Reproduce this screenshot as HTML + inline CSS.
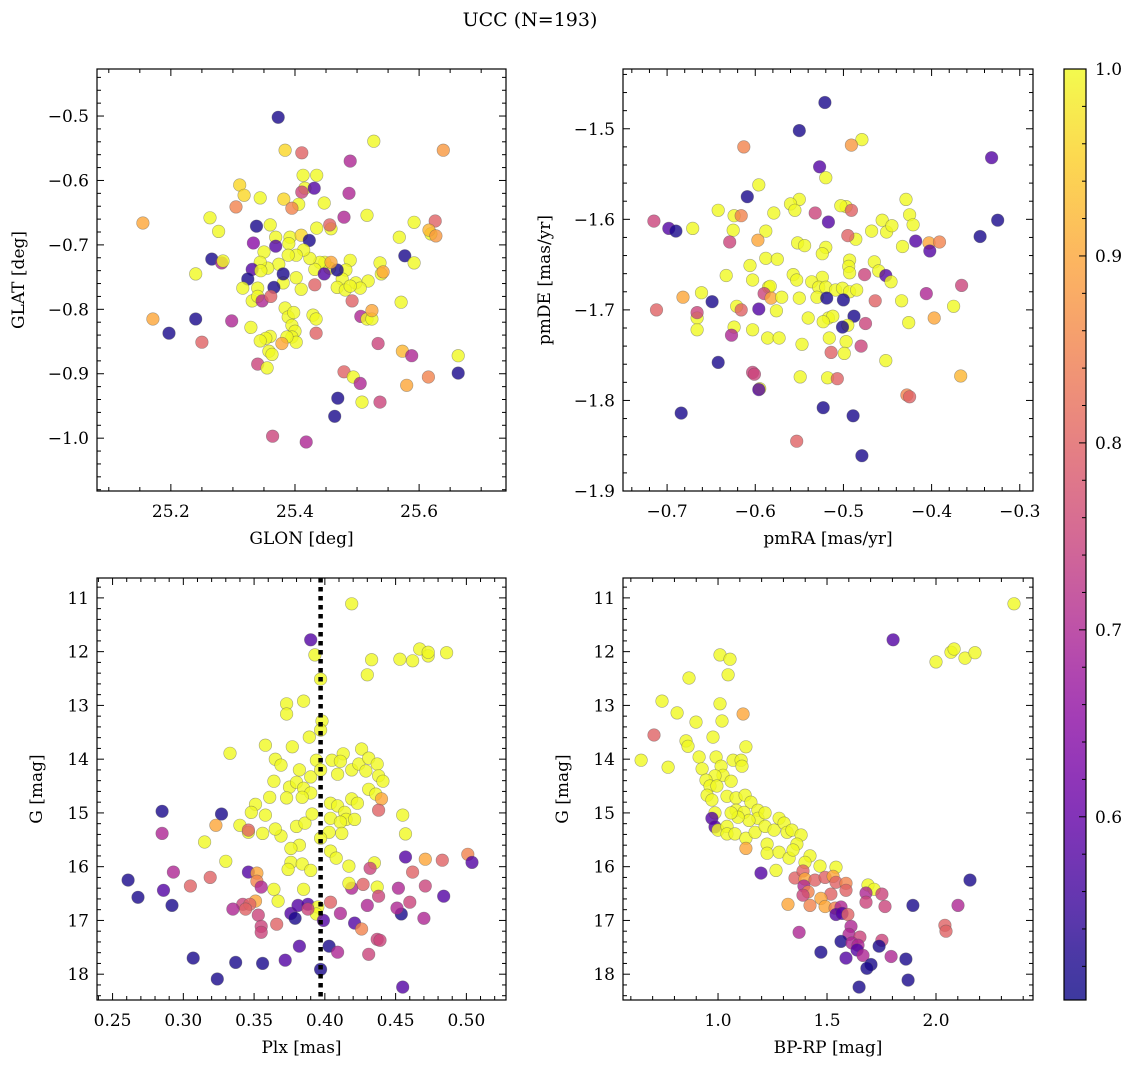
<!DOCTYPE html>
<html><head><meta charset="utf-8"><style>
body{margin:0;background:#fff;}
svg{display:block;font-family:"DejaVu Serif","Liberation Serif",serif;}
</style></head><body>
<svg id="fig" width="1136" height="1068" viewBox="0 0 1136 1068" xmlns="http://www.w3.org/2000/svg">
<rect width="1136" height="1068" fill="#fff"/>
<text x="530" y="26" font-size="19" text-anchor="middle">UCC (N=193)</text>
</svg>
<script>
// ---------- data ----------
const p1x=[25.373,25.384,25.527,25.639,25.411,25.489,25.311,25.318,25.435,25.416,25.431,25.413,25.411,25.406,25.447,25.487,25.382,25.395,25.344,25.305,25.263,25.338,25.333,25.155,25.277,25.266,25.282,25.240,25.284,25.360,25.369,25.392,25.410,25.423,25.435,25.458,25.456,25.479,25.516,25.568,25.592,25.619,25.626,25.616,25.627,25.577,25.592,25.537,25.539,25.518,25.489,25.482,25.498,25.505,25.476,25.468,25.481,25.489,25.456,25.448,25.440,25.432,25.447,25.468,25.458,25.424,25.414,25.402,25.390,25.369,25.389,25.374,25.356,25.350,25.344,25.331,25.381,25.410,25.432,25.402,25.324,25.345,25.381,25.366,25.340,25.316,25.331,25.340,25.347,25.361,25.384,25.389,25.398,25.395,25.400,25.395,25.402,25.387,25.379,25.360,25.353,25.358,25.329,25.344,25.429,25.434,25.434,25.492,25.506,25.516,25.524,25.524,25.542,25.571,25.171,25.197,25.240,25.298,25.250,25.340,25.355,25.363,25.573,25.588,25.615,25.663,25.663,25.479,25.494,25.505,25.580,25.508,25.537,25.469,25.464,25.364,25.418,25.534];
const p1y=[-0.502,-0.553,-0.539,-0.553,-0.557,-0.570,-0.607,-0.623,-0.592,-0.612,-0.612,-0.592,-0.618,-0.637,-0.635,-0.620,-0.629,-0.643,-0.627,-0.641,-0.658,-0.671,-0.697,-0.666,-0.679,-0.722,-0.728,-0.745,-0.725,-0.669,-0.688,-0.688,-0.685,-0.693,-0.674,-0.675,-0.669,-0.657,-0.654,-0.688,-0.665,-0.683,-0.663,-0.677,-0.686,-0.717,-0.728,-0.728,-0.745,-0.756,-0.724,-0.739,-0.759,-0.767,-0.753,-0.766,-0.770,-0.764,-0.736,-0.727,-0.727,-0.738,-0.745,-0.739,-0.727,-0.721,-0.708,-0.716,-0.698,-0.702,-0.716,-0.730,-0.736,-0.711,-0.727,-0.738,-0.759,-0.769,-0.762,-0.751,-0.753,-0.740,-0.745,-0.766,-0.767,-0.767,-0.787,-0.780,-0.787,-0.780,-0.798,-0.812,-0.805,-0.825,-0.834,-0.843,-0.851,-0.843,-0.853,-0.842,-0.845,-0.865,-0.828,-0.849,-0.809,-0.815,-0.837,-0.787,-0.811,-0.815,-0.815,-0.802,-0.742,-0.789,-0.815,-0.837,-0.815,-0.818,-0.851,-0.885,-0.891,-0.870,-0.865,-0.872,-0.905,-0.872,-0.899,-0.897,-0.905,-0.915,-0.918,-0.944,-0.944,-0.938,-0.966,-0.997,-1.006,-0.853];
const p1c=[.52,.96,1,.88,.8,.7,.96,.96,1,1,.58,1,.75,1,1,.7,.96,.85,1,.85,1,.52,.65,.9,1,.52,.7,1,1,1,1,1,.96,.52,1,1,.8,.7,1,1,1,1,.8,.92,.88,.52,1,1,1,1,1,1,1,1,1,1,1,1,1,1,1,1,.58,.52,.9,1,1,1,1,.58,1,1,1,1,1,.58,1,1,.8,1,.52,1,.52,.52,1,1,1,1,.7,.8,1,1,1,1,1,1,1,1,.9,1,1,1,1,1,1,1,.8,.8,.7,1,1,.9,.9,1,.9,.52,.52,.7,.8,.75,1,1,.92,.7,.85,1,.52,.8,1,.7,.9,1,.75,.52,.52,.75,.7,.75];

const p2x=[-0.521,-0.550,-0.479,-0.491,-0.613,-0.332,-0.527,-0.520,-0.596,-0.609,-0.429,-0.550,-0.560,-0.555,-0.497,-0.503,-0.491,-0.532,-0.579,-0.642,-0.624,-0.616,-0.517,-0.456,-0.425,-0.325,-0.715,-0.698,-0.690,-0.671,-0.625,-0.588,-0.451,-0.468,-0.445,-0.421,-0.418,-0.403,-0.391,-0.345,-0.402,-0.433,-0.520,-0.486,-0.552,-0.544,-0.495,-0.597,-0.629,-0.588,-0.575,-0.524,-0.493,-0.494,-0.493,-0.524,-0.557,-0.553,-0.536,-0.528,-0.520,-0.509,-0.501,-0.493,-0.485,-0.465,-0.460,-0.452,-0.446,-0.476,-0.633,-0.606,-0.603,-0.585,-0.583,-0.590,-0.582,-0.570,-0.550,-0.530,-0.519,-0.500,-0.464,-0.434,-0.682,-0.712,-0.666,-0.666,-0.649,-0.621,-0.616,-0.596,-0.576,-0.540,-0.517,-0.512,-0.488,-0.475,-0.495,-0.501,-0.523,-0.426,-0.397,-0.375,-0.366,-0.406,-0.661,-0.666,-0.624,-0.603,-0.586,-0.627,-0.573,-0.547,-0.516,-0.497,-0.480,-0.514,-0.499,-0.452,-0.642,-0.603,-0.601,-0.518,-0.549,-0.507,-0.367,-0.595,-0.596,-0.428,-0.425,-0.684,-0.523,-0.489,-0.553,-0.479];
const p2y=[-1.471,-1.502,-1.512,-1.518,-1.520,-1.532,-1.542,-1.554,-1.562,-1.575,-1.578,-1.578,-1.583,-1.590,-1.586,-1.585,-1.590,-1.593,-1.593,-1.590,-1.596,-1.596,-1.603,-1.601,-1.595,-1.601,-1.602,-1.610,-1.613,-1.610,-1.612,-1.613,-1.614,-1.613,-1.607,-1.606,-1.624,-1.626,-1.625,-1.619,-1.635,-1.630,-1.631,-1.622,-1.626,-1.629,-1.618,-1.623,-1.625,-1.643,-1.644,-1.638,-1.645,-1.652,-1.659,-1.664,-1.661,-1.667,-1.669,-1.675,-1.675,-1.678,-1.676,-1.680,-1.678,-1.647,-1.657,-1.662,-1.669,-1.661,-1.662,-1.651,-1.667,-1.675,-1.674,-1.682,-1.687,-1.686,-1.687,-1.686,-1.687,-1.689,-1.690,-1.690,-1.686,-1.700,-1.709,-1.703,-1.691,-1.696,-1.700,-1.699,-1.701,-1.709,-1.709,-1.707,-1.707,-1.715,-1.717,-1.719,-1.713,-1.714,-1.709,-1.696,-1.673,-1.682,-1.681,-1.722,-1.719,-1.722,-1.731,-1.728,-1.731,-1.738,-1.731,-1.735,-1.740,-1.747,-1.748,-1.756,-1.758,-1.769,-1.771,-1.775,-1.774,-1.776,-1.773,-1.787,-1.788,-1.794,-1.796,-1.814,-1.808,-1.817,-1.845,-1.861];
const p2c=[.52,.52,1,.88,.85,.58,.58,1,1,.52,1,1,1,1,1,1,.8,.75,1,1,1,.85,.58,1,1,.52,.75,.58,.52,1,1,1,1,1,1,1,.58,.9,.85,.52,.58,1,1,1,1,1,.8,.9,.75,1,1,1,1,1,1,1,1,1,1,1,1,1,1,1,1,1,1,.58,1,.75,1,1,1,1,1,.75,.9,1,1,1,.52,.52,.8,1,.9,.8,1,.75,.52,1,.8,.58,1,1,1,1,.52,.75,1,.52,1,1,.9,1,.75,.7,1,1,1,1,1,.7,1,1,1,1,.75,.8,1,1,.52,.75,.75,1,1,.8,.92,1,.58,.85,.8,.52,.52,.52,.8,.52];

const p3x=[0.419,0.390,0.393,0.397,0.467,0.473,0.473,0.486,0.462,0.453,0.433,0.430,0.373,0.373,0.385,0.389,0.398,0.397,0.333,0.358,0.377,0.365,0.369,0.382,0.390,0.394,0.397,0.405,0.409,0.413,0.411,0.419,0.424,0.426,0.431,0.429,0.437,0.438,0.364,0.375,0.380,0.385,0.390,0.384,0.373,0.361,0.351,0.348,0.358,0.340,0.323,0.327,0.315,0.346,0.346,0.356,0.369,0.365,0.380,0.386,0.391,0.404,0.409,0.404,0.414,0.419,0.423,0.415,0.421,0.411,0.403,0.397,0.412,0.431,0.436,0.441,0.440,0.438,0.455,0.457,0.457,0.382,0.376,0.376,0.384,0.374,0.390,0.404,0.408,0.417,0.435,0.432,0.330,0.285,0.285,0.293,0.305,0.319,0.346,0.352,0.352,0.355,0.364,0.351,0.342,0.347,0.385,0.367,0.376,0.381,0.388,0.395,0.394,0.404,0.419,0.417,0.427,0.437,0.430,0.438,0.452,0.460,0.471,0.483,0.501,0.504,0.471,0.484,0.470,0.454,0.451,0.261,0.268,0.286,0.292,0.335,0.344,0.353,0.355,0.355,0.366,0.379,0.388,0.399,0.411,0.421,0.426,0.437,0.439,0.431,0.382,0.403,0.409,0.307,0.337,0.356,0.372,0.397,0.324,0.455,0.462];
const p3y=[11.11,11.78,12.06,12.51,11.95,12.08,12.01,12.02,12.17,12.14,12.15,12.43,12.97,13.16,12.92,13.59,13.29,13.46,13.89,13.74,13.77,14.00,14.11,14.20,14.33,14.02,14.20,14.02,14.28,13.90,14.04,14.20,14.09,13.81,13.98,14.22,14.09,14.31,14.41,14.52,14.43,14.54,14.63,14.71,14.72,14.71,14.84,14.99,15.04,15.23,15.23,15.02,15.54,15.36,15.32,15.38,15.43,15.30,15.25,15.19,15.02,14.82,14.87,15.10,14.99,14.74,14.82,15.12,15.12,15.17,15.36,15.47,15.38,14.56,14.65,14.41,14.74,14.95,15.04,15.39,15.82,15.60,15.66,15.92,15.95,16.05,16.07,15.71,15.84,15.99,15.93,16.03,15.90,14.97,15.38,16.10,16.36,16.20,16.10,16.12,16.27,16.38,16.42,16.64,16.70,16.70,16.42,16.64,16.87,16.72,16.70,16.75,16.88,16.66,16.40,16.31,16.33,16.38,16.72,16.55,16.40,16.66,15.86,15.88,15.77,15.92,16.36,16.55,16.96,16.88,16.77,16.25,16.57,16.44,16.72,16.79,16.79,16.90,17.11,17.22,17.07,16.96,16.79,17.00,16.87,17.05,17.16,17.35,17.37,17.63,17.48,17.48,17.59,17.70,17.78,17.80,17.74,17.91,18.09,18.24,16.10];
const p3c=[1,.58,1,1,1,1,1,1,1,1,1,1,1,1,1,1,1,1,1,1,1,1,1,1,1,1,1,1,1,1,1,1,1,1,1,1,1,1,1,1,1,1,1,1,1,1,1,1,1,1,.9,.52,1,1,.8,1,1,1,1,1,1,1,1,1,1,1,1,1,1,1,1,1,1,1,1,1,.9,.8,1,1,.58,1,1,1,1,1,1,1,1,1,1,.75,1,.52,.7,.7,.8,.8,.58,.9,.85,.7,1,.9,.75,.8,1,1,.58,.58,.58,1,1,.8,.7,1,.8,1,.7,.75,.7,.75,.9,.8,.85,.58,.75,.58,.7,.52,.7,.52,.52,.58,.52,.7,.8,.75,.75,.75,.8,.52,.75,.58,.7,.58,.85,.75,.75,.75,.58,.52,.7,.52,.52,.52,.58,.52,.52,.58,.8];

const p4x=[2.358,1.803,1.009,1.055,0.867,1.046,2.000,2.069,2.083,2.133,2.179,0.743,0.812,0.706,0.899,1.009,1.018,1.115,0.771,0.647,0.853,0.862,0.913,0.927,0.977,0.991,1.014,1.023,1.069,1.106,1.128,1.110,1.060,0.986,0.945,0.963,0.995,0.950,0.972,1.041,1.083,1.124,1.151,1.083,1.119,1.183,1.183,1.216,1.142,1.092,1.060,0.986,0.972,0.986,1.000,1.041,1.041,1.078,1.128,1.128,1.170,1.216,1.257,1.280,1.303,1.317,1.339,1.381,1.362,1.225,1.225,1.280,1.326,1.344,1.422,1.399,1.468,1.541,1.266,1.197,1.353,1.390,1.399,1.394,1.445,1.491,1.528,1.541,1.587,1.587,1.688,1.716,1.752,1.679,1.413,1.390,1.518,1.472,1.422,1.321,1.491,1.537,1.564,1.679,1.766,1.894,1.541,1.569,1.596,1.610,1.601,1.651,1.752,1.564,1.614,1.642,1.739,1.638,1.665,1.794,1.472,1.587,1.702,1.683,1.647,1.872,1.862,2.156,2.101,2.041,2.046,1.372];
const p4y=[11.11,11.78,12.06,12.14,12.49,12.43,12.19,12.01,11.95,12.12,12.02,12.92,13.14,13.55,13.31,12.97,13.29,13.16,14.15,14.02,13.66,13.76,13.96,14.18,13.59,13.96,14.13,14.30,14.02,14.02,13.77,14.13,14.41,14.31,14.39,14.50,14.50,14.67,14.76,14.69,14.72,14.67,14.80,14.95,14.99,14.95,15.10,15.00,15.14,15.08,15.00,15.00,15.10,15.26,15.32,15.25,15.39,15.39,15.47,15.66,15.36,15.25,15.32,15.10,15.19,15.36,15.32,15.41,15.58,15.58,15.75,15.73,15.84,15.69,15.80,15.92,15.99,16.01,16.07,16.12,16.21,16.08,16.23,16.36,16.25,16.20,16.18,16.29,16.31,16.44,16.34,16.42,16.51,16.49,16.47,16.53,16.51,16.59,16.72,16.70,16.74,16.77,16.75,16.66,16.74,16.72,16.89,16.87,16.89,17.11,17.26,17.31,17.37,17.39,17.42,17.46,17.48,17.55,17.65,17.67,17.59,17.70,17.82,17.89,18.24,18.11,17.72,16.25,16.72,17.09,17.20,17.22];
const p4c=[1,.58,1,1,1,1,1,1,1,1,1,1,1,.8,1,1,1,.9,1,1,1,1,1,1,1,1,1,1,1,1,1,1,1,1,1,1,1,1,1,1,1,1,1,1,1,1,1,1,1,1,1,1,.58,.58,1,1,1,1,1,.9,1,1,1,1,1,1,1,1,1,1,1,1,1,1,1,1,1,1,1,.58,.8,.8,.9,.7,.8,.8,.9,.8,.85,.8,1,1,.75,.7,.85,.75,.8,.9,.85,.9,.9,.85,.7,.75,.75,.52,.58,.58,.8,.7,.7,.75,.75,.52,.7,.7,.52,.58,.7,.7,.52,.58,.52,.52,.52,.52,.52,.52,.7,.8,.8,.7];

const plxLine=[0.397];
const cbTicks=[0.6,0.7,0.8,0.9,1.0];

// ---------- helpers ----------
const NS="http://www.w3.org/2000/svg";
const svg=document.getElementById('fig');
function mk(tag,attrs,parent){const e=document.createElementNS(NS,tag);for(const k in attrs)e.setAttribute(k,attrs[k]);(parent||svg).appendChild(e);return e;}
const stops=[[0,[13,8,135]],[0.125,[65,4,157]],[0.25,[106,0,168]],[0.375,[143,13,164]],[0.5,[177,42,144]],[0.625,[204,71,120]],[0.75,[225,100,98]],[0.875,[242,132,75]],[1,[252,166,54]],[1.125,[252,206,37]],[1.25,[240,249,33]]];
const VMIN=0.51,VMAX=1.0;
function plasma(v){let t=(v-VMIN)/(VMAX-VMIN);t=Math.max(0,Math.min(1,t))*1.25;
 for(let i=0;i<stops.length-1;i++){const a=stops[i],b=stops[i+1];if(t<=b[0]){const f=(t-a[0])/(b[0]-a[0]);return 'rgb('+a[1].map((c,j)=>Math.round(c+(b[1][j]-c)*f)).join(',')+')';}}
 return 'rgb(240,249,33)';}
function fmt(v,d){const s=Math.abs(v).toFixed(d);return (v<-1e-9?'\u2212':'')+s;}

function panel(cfg){
 const g=mk('g',{});
 
 
 const {x0,x1,y0,y1,xmin,xmax,ymin,ymax}=cfg;
 const sx=v=>x0+(v-xmin)/(xmax-xmin)*(x1-x0);
 const sy=cfg.invert?(v=>y0+(v-ymin)/(ymax-ymin)*(y1-y0)):(v=>y1-(v-ymin)/(ymax-ymin)*(y1-y0));
 const pg=mk('g',{},g);
 
 
 for(let i=0;i<cfg.xs.length;i++){
  const c=mk('circle',{cx:sx(cfg.xs[i]).toFixed(1),cy:sy(cfg.ys[i]).toFixed(1),r:6.3,fill:plasma(cfg.cs[i]),'fill-opacity':0.8,stroke:'#555','stroke-opacity':0.5,'stroke-width':0.6},pg);
  
  
 }
 if(cfg.vline){for(const v of cfg.vline){const l=mk('line',{x1:sx(v),x2:sx(v),y1:y0,y2:y1,stroke:'#000','stroke-width':4.5,'stroke-dasharray':'4.5,4.5'},g);
  
  }}
 const fr=mk('rect',{x:x0,y:y0,width:x1-x0,height:y1-y0,fill:'none',stroke:'#000','stroke-width':1.2},g);
 
 
 const tk=mk('g',{stroke:'#000','stroke-width':1},g);
 const eps=1e-9;
 for(let v=Math.ceil(xmin/cfg.xminor-eps)*cfg.xminor;v<=xmax+eps;v+=cfg.xminor){
  const major=Math.abs(v/cfg.xmajor-Math.round(v/cfg.xmajor))<1e-6;const L=major?7:4;const X=sx(v);
  mk('line',{x1:X,x2:X,y1:y1,y2:y1-L},tk);mk('line',{x1:X,x2:X,y1:y0,y2:y0+L},tk);
  if(major){const t=mk('text',{x:X,y:y1+26,'font-size':17,'text-anchor':'middle',stroke:'none'},g);t.textContent=fmt(v,cfg.xdec);
   }
 }
 for(let v=Math.ceil(ymin/cfg.yminor-eps)*cfg.yminor;v<=ymax+eps;v+=cfg.yminor){
  const major=Math.abs(v/cfg.ymajor-Math.round(v/cfg.ymajor))<1e-6;const L=major?7:4;const Y=sy(v);
  mk('line',{x1:x0,x2:x0+L,y1:Y,y2:Y},tk);mk('line',{x1:x1,x2:x1-L,y1:Y,y2:Y},tk);
  if(major){const t=mk('text',{x:x0-8,y:Y+6,'font-size':17,'text-anchor':'end',stroke:'none'},g);t.textContent=fmt(v,cfg.ydec);
   }
 }
 const xl=mk('text',{x:(x0+x1)/2,y:y1+53,'font-size':17,'text-anchor':'middle'},g);xl.textContent=cfg.xlabel;
 
 const yx=x0-cfg.ylabOff, yy=(y0+y1)/2;
 const yl=mk('text',{x:yx,y:yy,'font-size':17,'text-anchor':'middle',transform:`rotate(-90 ${yx} ${yy})`},g);yl.textContent=cfg.ylabel;
 
}

panel({name:'glon-glat-panel',x0:97,x1:506,y0:69,y1:491,xmin:25.081,xmax:25.740,ymin:-1.082,ymax:-0.427,xmajor:0.2,xminor:0.05,ymajor:0.1,yminor:0.02,xdec:1,ydec:1,xs:p1x,ys:p1y,cs:p1c,xlabel:'GLON [deg]',ylabel:'GLAT [deg]',ylabOff:73});
panel({name:'pm-panel',x0:623,x1:1033,y0:69,y1:491,xmin:-0.750,xmax:-0.285,ymin:-1.9,ymax:-1.434,xmajor:0.1,xminor:0.02,ymajor:0.1,yminor:0.02,xdec:1,ydec:1,xs:p2x,ys:p2y,cs:p2c,xlabel:'pmRA [mas/yr]',ylabel:'pmDE [mas/yr]',ylabOff:73});
panel({name:'plx-g-panel',x0:97,x1:506,y0:578,y1:1000,xmin:0.239,xmax:0.528,ymin:10.63,ymax:18.48,invert:true,xmajor:0.05,xminor:0.01,ymajor:1,yminor:0.2,xdec:2,ydec:0,xs:p3x,ys:p3y,cs:p3c,vline:plxLine,xlabel:'Plx [mas]',ylabel:'G [mag]',ylabOff:55});
panel({name:'cmd-panel',x0:623,x1:1033,y0:578,y1:1000,xmin:0.564,xmax:2.445,ymin:10.63,ymax:18.48,invert:true,xmajor:0.5,xminor:0.1,ymajor:1,yminor:0.2,xdec:1,ydec:0,xs:p4x,ys:p4y,cs:p4c,xlabel:'BP-RP [mag]',ylabel:'G [mag]',ylabOff:55});

(function(){
 const cx0=1064,cx1=1086,cy0=69,cy1=1000,cmin=0.502,cmax=1.0;
 const g=mk('g',{});
 
 
 const defs=mk('defs',{},g);
 const lg=mk('linearGradient',{id:'cbg',x1:0,y1:1,x2:0,y2:0},defs);
 for(let i=0;i<=20;i++){const v=cmin+(cmax-cmin)*i/20;mk('stop',{offset:i/20,'stop-color':plasma(v),'stop-opacity':0.8},lg);}
 mk('rect',{x:cx0,y:cy0,width:cx1-cx0,height:cy1-cy0,fill:'url(#cbg)',stroke:'#000','stroke-width':1.2},g);
 const sy=v=>cy1-(v-cmin)/(cmax-cmin)*(cy1-cy0);
 for(let k=26;k<=50;k++){const v=k*0.02;if(v<cmin||v>cmax+1e-9)continue;const Y=sy(v);const major=k%5===0;
  mk('line',{x1:cx1,x2:cx1-(major?7:4),y1:Y,y2:Y,stroke:'#000','stroke-width':1},g);}
 for(const v of cbTicks){const t=mk('text',{x:cx1+9,y:sy(v)+6,'font-size':17},g);t.textContent=v.toFixed(1);
  }
})();
</script>
</body></html>
